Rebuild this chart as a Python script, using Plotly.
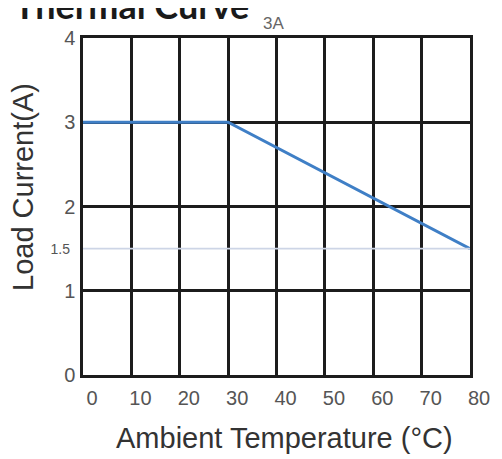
import plotly.graph_objects as go

# ---- data ----
temperature_c = [0, 30, 80]
load_current_a = [3, 3, 1.5]
reference_current = 1.5

x_tick_vals = [0, 10, 20, 30, 40, 50, 60, 70, 80]
x_tick_text = ["0", "10", "20", "30", "40", "50", "60", "70", "80"]
y_tick_vals = [0, 1, 2, 3, 4]
y_tick_text = ["0", "1", "2", "3", "4"]
ref_tick_text = ["1.5"]

title_text = "Thermal Curve"
rating_text = "3A"
x_title = "Ambient Temperature (°C)"
y_title = "Load Current(A)"

# the page body has an 8px margin, so the figure is 8px smaller than the window
W, H = 494, 451
M = dict(l=75, r=32, t=30, b=84)
plot_w = W - M["l"] - M["r"]
plot_h = H - M["t"] - M["b"]

GRID = "#1c1c1c"
FONT = "Liberation Sans, Arial, sans-serif"
TICK_FONT = dict(family=FONT, size=20, color="#555555")


def px_x(x):  # figure pixel -> paper x
    return (x - M["l"]) / plot_w


def px_y(y):  # figure pixel -> paper y
    return (H - M["b"] - y) / plot_h


fig = go.Figure()

# light reference line at 1.5 A (on the overlay axis that carries its label)
fig.add_trace(go.Scatter(
    x=[temperature_c[0], temperature_c[-1]],
    y=[reference_current, reference_current],
    yaxis="y2", mode="lines",
    line=dict(color="#cdd5e6", width=1.6),
    hoverinfo="skip", showlegend=False,
))

# derating curve
fig.add_trace(go.Scatter(
    x=temperature_c, y=load_current_a,
    mode="lines",
    line=dict(color="#3f7fc6", width=3),
    showlegend=False,
))

fig.update_layout(
    width=W, height=H,
    margin=dict(**M, pad=0, autoexpand=False),
    paper_bgcolor="white",
    plot_bgcolor="white",
    xaxis=dict(
        range=[0, 80],
        tickvals=x_tick_vals, ticktext=x_tick_text,
        tickfont=TICK_FONT,
        ticklabelshift=9,
        ticklabelstandoff=3,
        showgrid=True, gridcolor=GRID, gridwidth=2.5,
        zeroline=False,
        showline=True, linecolor=GRID, linewidth=2.5, mirror=True,
        ticks="",
        automargin=False,
    ),
    yaxis=dict(
        range=[0, 4],
        tickvals=y_tick_vals, ticktext=y_tick_text,
        tickfont=TICK_FONT,
        ticklabelstandoff=1,
        showgrid=True, gridcolor=GRID, gridwidth=2.5,
        zeroline=False,
        showline=True, linecolor=GRID, linewidth=2.5, mirror=True,
        ticks="",
        automargin=False,
    ),
    yaxis2=dict(
        overlaying="y", side="left",
        range=[0, 4],
        tickvals=[reference_current], ticktext=ref_tick_text,
        tickfont=dict(family=FONT, size=14, color="#555555"),
        ticklabelstandoff=12,
        showgrid=False, zeroline=False, showline=False, ticks="",
        automargin=False,
    ),
    annotations=[
        dict(text=f"<b>{title_text}</b>", xref="paper", yref="paper",
             x=px_x(4), y=px_y(-3),
             xanchor="left", yanchor="middle", showarrow=False,
             font=dict(family="Lato, sans-serif", size=36, color="#1a1a1a")),
        dict(text=rating_text, xref="paper", yref="paper",
             x=px_x(265), y=px_y(15.5),
             xanchor="center", yanchor="middle", showarrow=False,
             font=dict(family=FONT, size=17, color="#666666")),
        dict(text=y_title, xref="paper", yref="paper",
             x=px_x(15), y=px_y(179),
             xanchor="center", yanchor="middle", textangle=-90, showarrow=False,
             font=dict(family=FONT, size=29, color="#333333")),
        dict(text=x_title, xref="paper", yref="paper",
             x=px_x(276.5), y=px_y(430),
             xanchor="center", yanchor="middle", showarrow=False,
             font=dict(family=FONT, size=29, color="#333333")),
    ],
)

fig.write_html("out.html")
